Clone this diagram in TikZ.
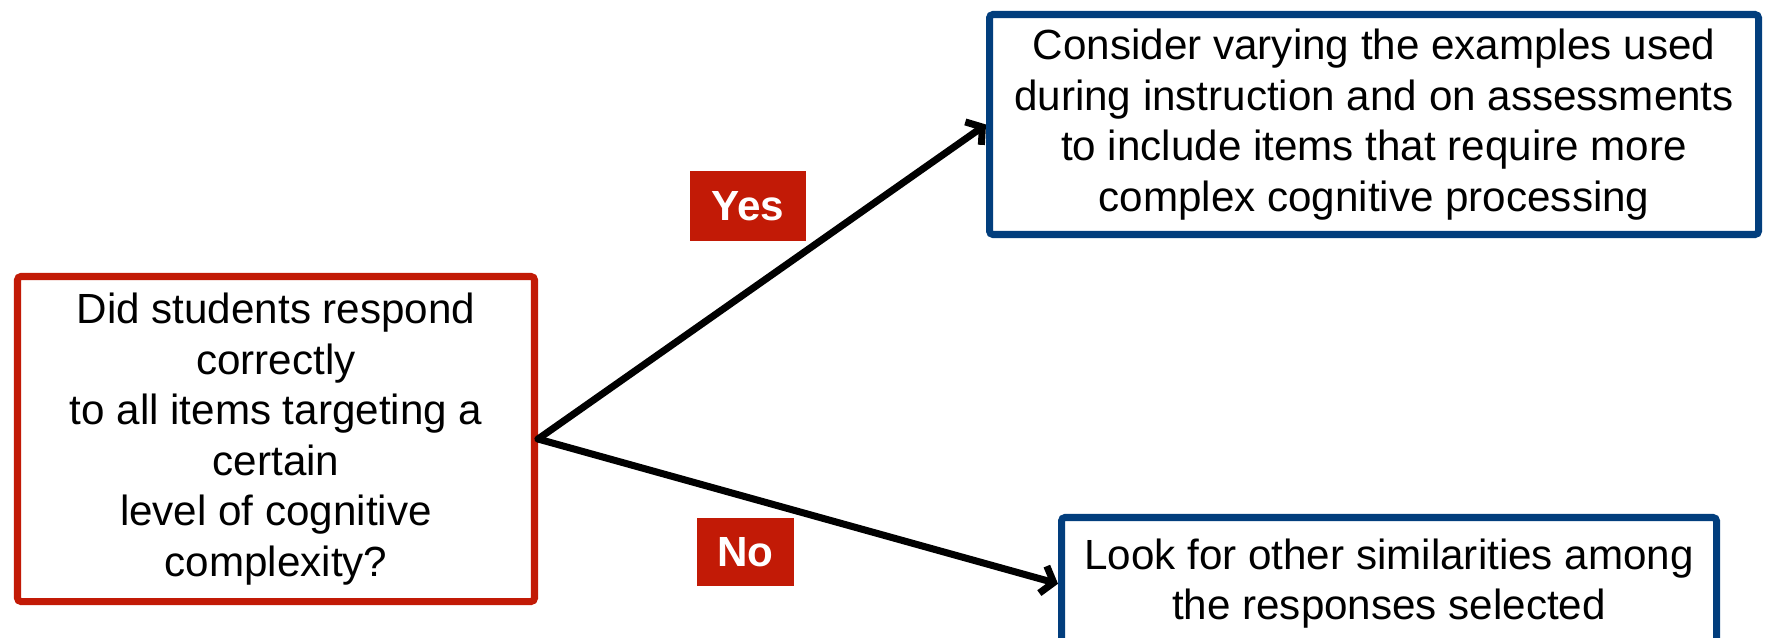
\documentclass[tikz,border=0pt]{standalone}
\usepackage{fontspec}
\setmainfont{Liberation Sans}
\usetikzlibrary{arrows.meta}
\usetikzlibrary{positioning}
\usetikzlibrary{calc}
\definecolor{qRed}{RGB}{194,26,6}
\definecolor{aBlue}{RGB}{2,62,125}
\tikzset{
	txt/.style={font=\fontsize{12}{14.4}\selectfont, align=center, text=black},
	questBox/.style={rectangle, draw=qRed, line width=2pt, fill=white, rounded corners=1pt, txt},
	actBox/.style={rectangle, draw=aBlue, line width=2pt, fill=white, rounded corners=1pt, txt},
	ansTag/.style={rectangle, fill=qRed, text=white, font=\fontsize{12}{14.4}\selectfont\bfseries, inner sep=0pt},
}

\begin{document}
\begin{tikzpicture} [
		branch/.style={line width=2pt, line cap=round, -{Straight Barb[length=1.1mm,width=2.8mm,line width=2pt]}}]
		
		% page size of the picture
		\useasboundingbox (0,0) rectangle (17.65,6.37);
		\clip (0,0) rectangle (17.65,6.37);
		
		% question box - used as start point
		\node[questBox, minimum width=5.17cm, minimum height=3.25cm] (quest) at (2.76,1.98)
			{Did students respond\\ correctly\\ to all items targeting a\\ certain\\ level of cognitive\\ complexity?};
		
		% action boxes
		\node[actBox, minimum width=7.69cm, minimum height=2.2cm] (vary) at (13.74,5.125)
			{Consider varying the examples used\\ during instruction and on assessments\\ to include items that require more\\ complex cognitive processing};
		\node[actBox, minimum width=6.55cm, minimum height=1.325cm] (other) at (13.89,0.5325)
			{Look for other similarities among\\ the responses selected};
		
		% yes / no tags
		\node[ansTag, minimum width=1.16cm, minimum height=0.70cm] (yes) at (7.48,4.31) {Yes};
		\node[ansTag, minimum width=0.97cm, minimum height=0.68cm] (no) at (7.455,0.85) {No};
		
		% branches
		\draw[branch] (quest.east) -- (vary.west); % yes branch
		\draw[branch] (quest.east) -- (other.west); % no branch
		
	\end{tikzpicture}
\end{document}
